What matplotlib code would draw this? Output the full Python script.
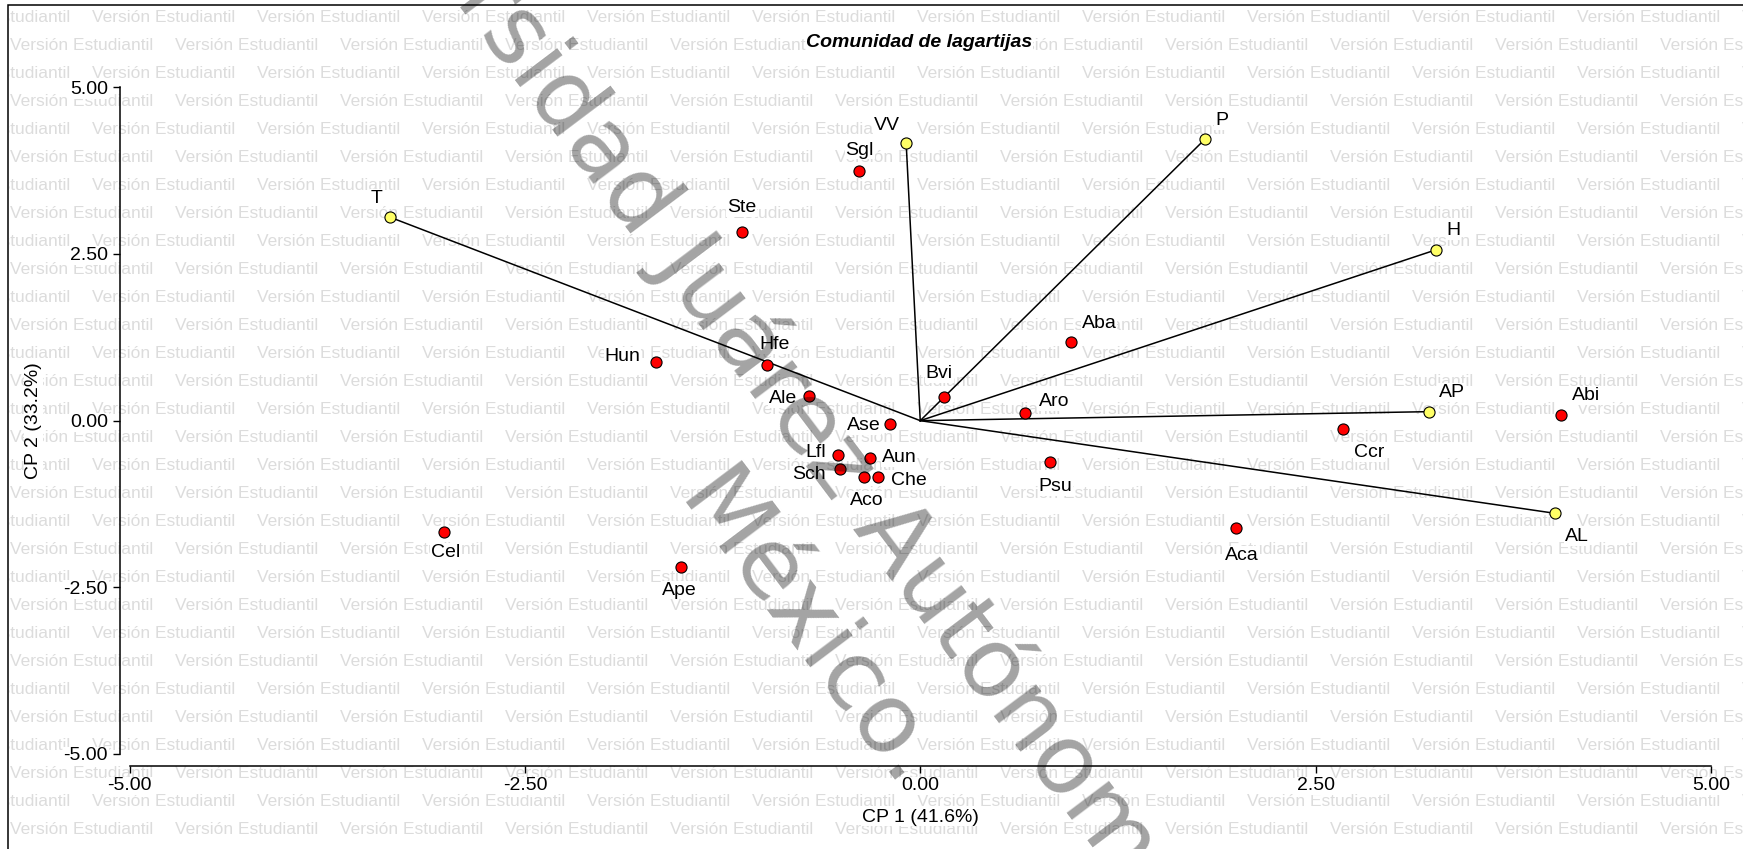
import matplotlib
matplotlib.use("Agg")
import matplotlib.pyplot as plt
from matplotlib.ticker import FormatStrFormatter
from matplotlib.patches import Rectangle
from matplotlib.transforms import Bbox
import numpy as np

plt.rcParams['font.family'] = ['Liberation Sans', 'DejaVu Sans']
plt.rcParams['axes.unicode_minus'] = False

# especies (puntos rojos)
especies = ['Sgl', 'Ste', 'Hun', 'Hfe', 'Ale', 'Bvi', 'Aba', 'Aro', 'Ase', 'Lfl',
            'Aun', 'Sch', 'Aco', 'Che', 'Psu', 'Ccr', 'Abi', 'Aca', 'Cel', 'Ape']
esp_cp1 = [-0.39, -1.13, -1.674, -0.968, -0.706, 0.152, 0.954, 0.661, -0.193, -0.518,
           -0.317, -0.508, -0.353, -0.266, 0.818, 2.675, 4.052, 1.997, -3.012, -1.51]
esp_cp2 = [3.744, 2.834, 0.885, 0.835, 0.37, 0.351, 1.185, 0.12, -0.054, -0.514,
           -0.564, -0.724, -0.84, -0.849, -0.624, -0.129, 0.09, -1.614, -1.664, -2.198]

# variables (vectores, puntos amarillos)
variables = ['T', 'VV', 'P', 'H', 'AP', 'AL']
var_cp1 = [-3.351, -0.089, 1.799, 3.258, 3.217, 4.011]
var_cp2 = [3.05, 4.159, 4.219, 2.56, 0.135, -1.389]

ticks = [-5.0, -2.5, 0.0, 2.5, 5.0]

# desplazamiento de etiquetas en pixeles (x, y hacia abajo)
desp = {'Sgl': (1, -21), 'Ste': (0, -24), 'Hun': (-33, -5), 'Hfe': (7, -20),
        'Ale': (-26, 3), 'Bvi': (-5, -24), 'Aba': (28, -18), 'Aro': (29, -11),
        'Ase': (-26, 1), 'Lfl': (-23, -2), 'Aun': (29, -1), 'Sch': (-31, 6),
        'Aco': (2, 24), 'Che': (31, 3), 'Psu': (6, 24), 'Ccr': (26, 23),
        'Abi': (25, -19), 'Aca': (6, 27), 'Cel': (2, 21), 'Ape': (-2, 23),
        'T': (-14, -19), 'VV': (-19, -18), 'P': (17, -19), 'H': (18, -19),
        'AP': (23, -19), 'AL': (22, 23)}

W, H = 1743, 849
fig = plt.figure(figsize=(W / 100, H / 100), dpi=100)

# marco
marco = Rectangle((8.4 / W, -0.1), 2, (H - 4.7) / H + 0.1, transform=fig.transFigure,
                  fill=False, edgecolor='black', linewidth=1.1, zorder=0)
fig.patches.append(marco)

# marca de agua "Versión Estudiantil"
caja = Bbox.from_extents(9, 0, W, H - 5.5)
for k in range(31):
    yc = 17.3 + 28 * k
    x0 = (92 if k % 2 == 0 else 9.6) - 165
    for j in range(13):
        t = fig.text((x0 + 165 * j) / W, 1 - yc / H, 'Versión Estudiantil',
                     fontsize=12.5, color='#dcdcdc', ha='left', va='center', zorder=1)
        t.set_clip_box(caja)

ax = fig.add_axes([129.5 / W, (H - 754) / H, (1711 - 129.5) / W, (754 - 87.3) / H])
ax.set_zorder(2)
ax.patch.set_visible(False)
ax.set_xlim(-5, 5)
ax.set_ylim(-5, 5)

for s in ['top', 'right']:
    ax.spines[s].set_visible(False)
ax.spines['left'].set_position(('outward', 7))
ax.spines['bottom'].set_position(('outward', 8.4))
ax.spines['left'].set_bounds(-5, 5)
ax.spines['bottom'].set_bounds(-5, 5)
for s in ['left', 'bottom']:
    ax.spines[s].set_linewidth(1.1)

ax.set_xticks(ticks)
ax.set_yticks(ticks)
ax.xaxis.set_major_formatter(FormatStrFormatter('%.2f'))
ax.yaxis.set_major_formatter(FormatStrFormatter('%.2f'))
ax.tick_params(direction='out', length=5, width=1, labelsize=14, pad=3.5)

fondo = dict(facecolor='white', edgecolor='none', pad=0.5)
for lbl in ax.get_xticklabels() + ax.get_yticklabels():
    lbl.set_bbox(fondo)

ax.set_xlabel('CP 1 (41.6%)', fontsize=14, bbox=fondo)
ax.set_ylabel('CP 2 (33.2%)', fontsize=14, bbox=fondo)
ax.xaxis.label.set_va('center')
ax.yaxis.label.set_va('center')
ax.xaxis.set_label_coords(0.5, (754 - 817) / (754 - 87.3))
ax.yaxis.set_label_coords((33.7 - 129.5) / (1711 - 129.5), 0.5)

# vectores
for vx, vy in zip(var_cp1, var_cp2):
    ax.plot([0, vx], [0, vy], color='black', linewidth=1.1, zorder=2)
ax.plot(var_cp1, var_cp2, 'o', markersize=8, markerfacecolor='#ffff66',
        markeredgecolor='black', markeredgewidth=0.8, zorder=3, clip_on=False)
ax.plot(esp_cp1, esp_cp2, 'o', markersize=8, markerfacecolor='#ff0000',
        markeredgecolor='black', markeredgewidth=0.8, zorder=3, clip_on=False)

for nombre, x, y in zip(especies + variables, esp_cp1 + var_cp1, esp_cp2 + var_cp2):
    dx, dy = desp[nombre]
    ax.annotate(nombre, (x, y), xytext=(dx * 0.72, -dy * 0.72), textcoords='offset points',
                ha='center', va='center', fontsize=14, bbox=fondo, zorder=4)

fig.text(919.5 / W, 1 - 42.7 / H, 'Comunidad de lagartijas', fontsize=14,
         fontweight='bold', fontstyle='italic', ha='center', va='center',
         bbox=fondo, zorder=5)

# marca de agua diagonal
ang = -53
d = np.array([np.cos(np.radians(ang)), -np.sin(np.radians(ang))])
BA = np.array([852.0, 528.0])
BM = np.array([675.0, 501.0])
estilo = dict(fontsize=70, family='DejaVu Sans', color='black', alpha=0.36,
              rotation=ang, rotation_mode='anchor', va='baseline', zorder=20)
p = BA - 31 * d
fig.text(p[0] / W, 1 - p[1] / H, 'Universidad Juárez', ha='right', **estilo)
fig.text(BA[0] / W, 1 - BA[1] / H, 'Autónoma de Tabasco', ha='left', **estilo)
fig.text(BM[0] / W, 1 - BM[1] / H, 'México.', ha='left', **estilo)

fig.savefig('out.png', dpi=100)
